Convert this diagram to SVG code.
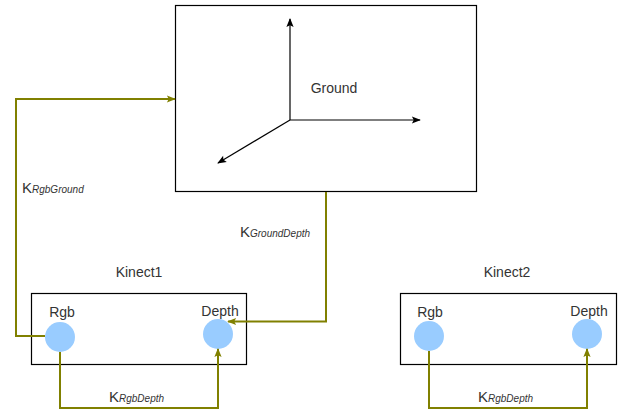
<svg xmlns="http://www.w3.org/2000/svg" width="624" height="412" viewBox="0 0 624 412">
<style>
.box{fill:#fff;stroke:#000;stroke-width:1.2}
.port{fill:#99ccff;stroke:none}
.lbl{font-family:"Liberation Sans",Arial,sans-serif;font-size:14px;fill:#333}
.k{font-family:"Liberation Sans",Arial,sans-serif;font-size:15px;fill:#333}
.sub{font-size:10px;font-style:italic}
.con{fill:none;stroke:#808000;stroke-width:2}
.axis{fill:none;stroke:#000;stroke-width:1.2}
</style>
<defs>
<marker id="oa" viewBox="0 0 10 10" refX="9" refY="5" markerWidth="10" markerHeight="9" orient="auto" markerUnits="userSpaceOnUse">
<path d="M0,1 L10,5 L0,9 L2,5 Z" fill="#808000"/>
</marker>
<marker id="ba" viewBox="0 0 10 10" refX="9" refY="5" markerWidth="11" markerHeight="9" orient="auto" markerUnits="userSpaceOnUse">
<path d="M0,1 L10,5 L0,9 L2,5 Z" fill="#000"/>
</marker>
</defs>
<g id="ground">
<rect class="box" x="175.5" y="5.5" width="301" height="186"/>
<line class="axis" x1="290" y1="120" x2="290" y2="19" marker-end="url(#ba)"/>
<line class="axis" x1="290" y1="120" x2="420" y2="120" marker-end="url(#ba)"/>
<line class="axis" x1="290" y1="120" x2="218" y2="163" marker-end="url(#ba)"/>
<text class="lbl" x="334" y="93" text-anchor="middle">Ground</text>
</g>
<g id="kinect1">
<text class="lbl" x="139" y="277" text-anchor="middle">Kinect1</text>
<rect class="box" x="31.5" y="293.5" width="215" height="71"/>
<text class="lbl" x="62" y="317" text-anchor="middle">Rgb</text>
<circle class="port" cx="60" cy="337" r="15"/>
<text class="lbl" x="220" y="316" text-anchor="middle">Depth</text>
<circle class="port" cx="218" cy="334" r="15"/>
</g>
<g id="kinect2">
<text class="lbl" x="507" y="277" text-anchor="middle">Kinect2</text>
<rect class="box" x="400.5" y="293.5" width="216" height="71"/>
<text class="lbl" x="430" y="317" text-anchor="middle">Rgb</text>
<circle class="port" cx="429" cy="336" r="15"/>
<text class="lbl" x="589" y="316" text-anchor="middle">Depth</text>
<circle class="port" cx="587" cy="334" r="15"/>
</g>
<g id="connectors">
<path class="con" d="M45,336 H16 V99 H175" marker-end="url(#oa)"/>
<path class="con" d="M326,192 V321.5 H228" marker-end="url(#oa)"/>
<path class="con" d="M60,352 V408 H218 V349" marker-end="url(#oa)"/>
<path class="con" d="M429,351 V408 H587 V349" marker-end="url(#oa)"/>
<text class="k" x="22" y="193">K<tspan class="sub">RgbGround</tspan></text>
<text class="k" x="240" y="237">K<tspan class="sub">GroundDepth</tspan></text>
<text class="k" x="109" y="402">K<tspan class="sub">RgbDepth</tspan></text>
<text class="k" x="478" y="402">K<tspan class="sub">RgbDepth</tspan></text>
</g>
</svg>
